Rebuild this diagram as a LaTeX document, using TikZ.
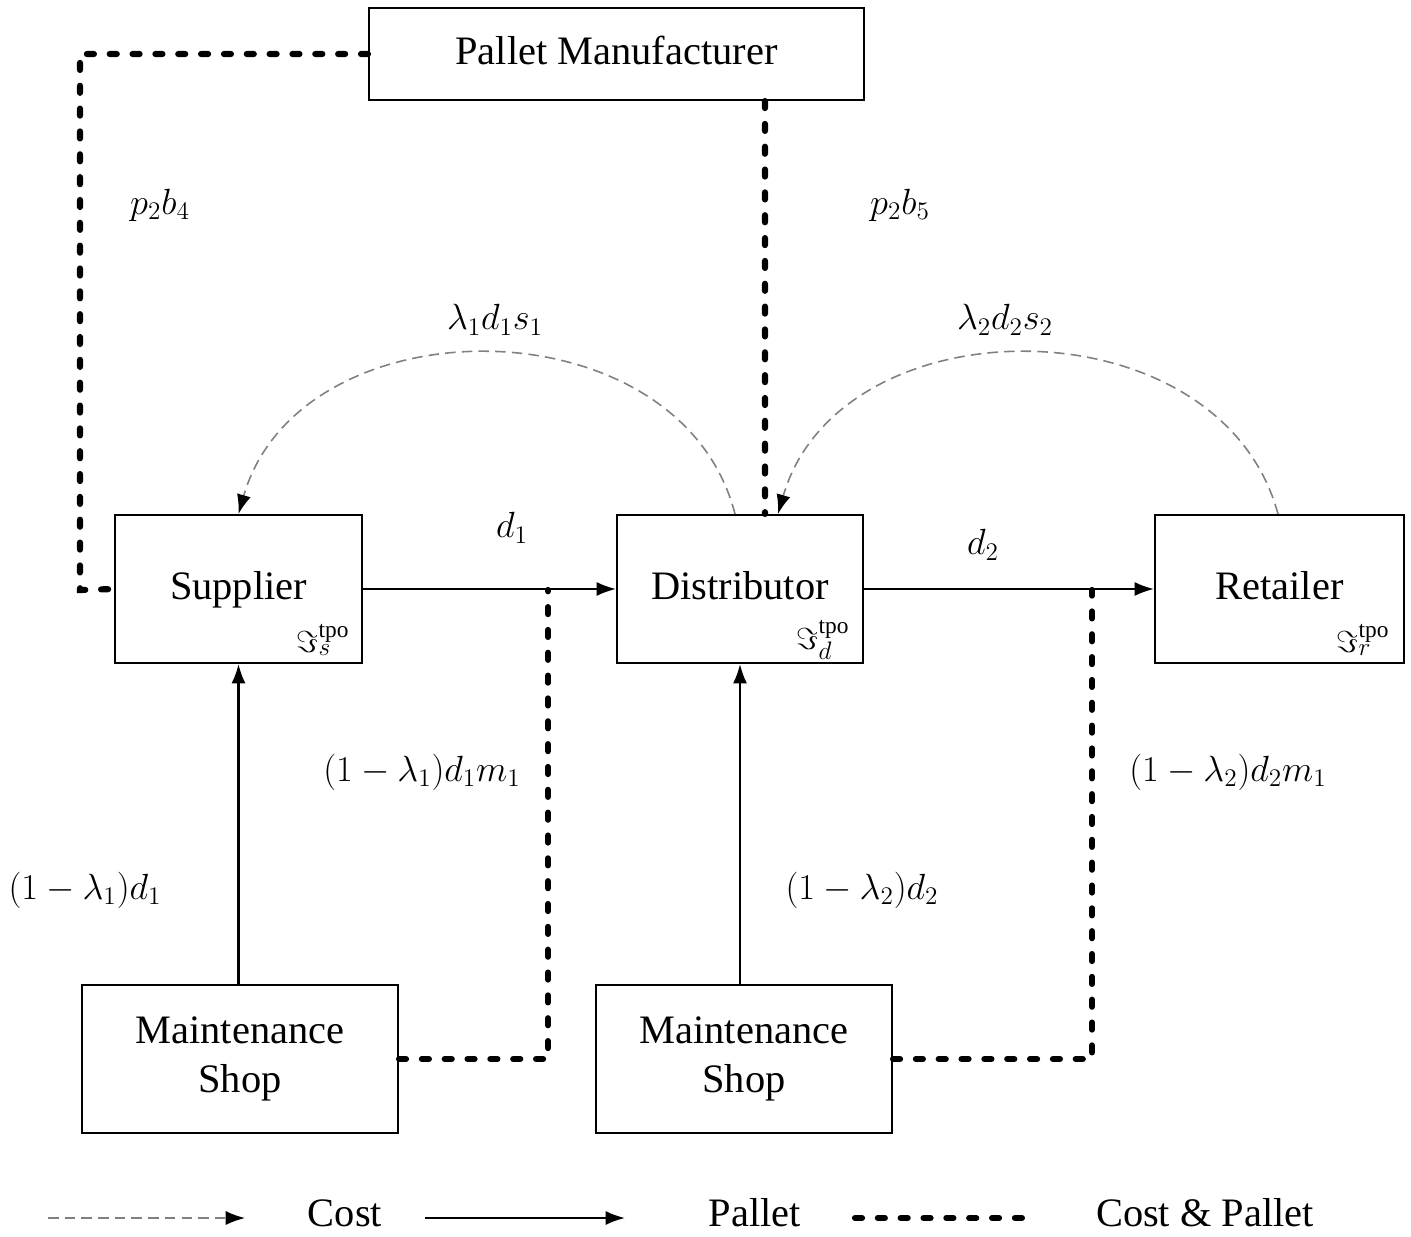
\documentclass[tikz,border=0pt]{standalone}
\usepackage{fontspec}
\setmainfont{Liberation Serif}
\usetikzlibrary{arrows.meta}
\begin{document}
\begin{tikzpicture}[x=0.02cm,y=-0.02cm,
  box/.style={draw,line width=1.2pt,align=center,font=\fontsize{23}{27}\selectfont,inner sep=0pt},
  one/.style={text height=16pt,text depth=4pt},
  lbl/.style={font=\fontsize{22}{26}\selectfont,inner sep=0pt},
  sub/.style={font=\fontsize{19}{22}\selectfont,inner sep=0pt},
  pallet/.style={line width=1.2pt,-{Latex[length=11pt,width=8pt]}},
  cost/.style={gray,line width=0.9pt,dash pattern=on 6pt off 3.5pt,-{Latex[length=11pt,width=8pt,color=black]}},
  both/.style={line width=3.5pt,line cap=round,dash pattern=on 4pt off 9pt}]
\useasboundingbox (0,0) rectangle (1411,1237);
% boxes
\node[box,one,minimum width=9.9cm,minimum height=1.84cm] (pm) at (616.5,54) {Pallet Manufacturer};
\node[box,one,minimum width=4.94cm,minimum height=2.96cm] (sup) at (238.5,589) {Supplier};
\node[box,one,minimum width=4.92cm,minimum height=2.96cm] (dis) at (740,589) {Distributor};
\node[box,one,minimum width=4.98cm,minimum height=2.96cm] (ret) at (1279.5,589) {Retailer};
\node[box,minimum width=6.32cm,minimum height=2.96cm] (ms1) at (240,1059) {Maintenance\\[1pt]Shop};
\node[box,minimum width=5.92cm,minimum height=2.96cm] (ms2) at (744,1059) {Maintenance\\[1pt]Shop};
% sub labels
\node[sub] (ts) at (323,640) {$\Im_s^{\mathrm{tpo}}$};
\node[sub] (td) at (823,640) {$\Im_d^{\mathrm{tpo}}$};
\node[sub] (tr) at (1363,640) {$\Im_r^{\mathrm{tpo}}$};
% coordinates
\coordinate (c1) at (80,590);
\coordinate (j1) at (548,590);
\coordinate (j2) at (1092,590);
% cost & pallet
\draw[both] (pm.west) -| (c1) -- (sup.west);
\draw[both] ([xshift=2.97cm]pm.south) -- ([xshift=0.5cm]dis.north);
\draw[both] (ms1.east) -| (j1);
\draw[both] (ms2.east) -| (j2);
% pallet
\draw[pallet] (sup.east) -- (dis.west);
\draw[pallet] (dis.east) -- (ret.west);
\draw[pallet] (ms1.north -| sup.south) -- (sup.south);
\draw[pallet] (ms2.north -| dis.south) -- (dis.south);
% cost
\draw[cost] ([xshift=-0.1cm]dis.north) .. controls (680,300) and (300,300) .. (sup.north);
\draw[cost] ([xshift=-0.03cm]ret.north) .. controls (1220,300) and (840,300) .. ([xshift=0.76cm]dis.north);
% labels
\node[lbl] (l1) at (160,205) {$p_2b_4$};
\node[lbl] (l2) at (900,205) {$p_2b_5$};
\node[lbl] (l3) at (495,320) {$\lambda_1d_1s_1$};
\node[lbl] (l4) at (1005,320) {$\lambda_2d_2s_2$};
\node[lbl] (l5) at (512,528) {$d_1$};
\node[lbl] (l6) at (983,545) {$d_2$};
\node[lbl] (l7) at (422,772) {$(1-\lambda_1)d_1m_1$};
\node[lbl] (l8) at (1228,772) {$(1-\lambda_2)d_2m_1$};
\node[lbl] (l9) at (85,890) {$(1-\lambda_1)d_1$};
\node[lbl] (l10) at (862,890) {$(1-\lambda_2)d_2$};
% legend
\coordinate (a1) at (48,1218); \coordinate (a2) at (245,1218);
\coordinate (b1) at (425,1218); \coordinate (b2) at (625,1218);
\coordinate (e1) at (855,1218); \coordinate (e2) at (1022,1218);
\draw[cost] (a1) -- (a2);
\draw[pallet] (b1) -- (b2);
\draw[both] (e1) -- (e2);
\node[box,one,draw=none] (g1) at (345,1216) {Cost};
\node[box,one,draw=none] (g2) at (755,1216) {Pallet};
\node[box,one,draw=none] (g3) at (1205,1216) {Cost \& Pallet};
\end{tikzpicture}
\end{document}
